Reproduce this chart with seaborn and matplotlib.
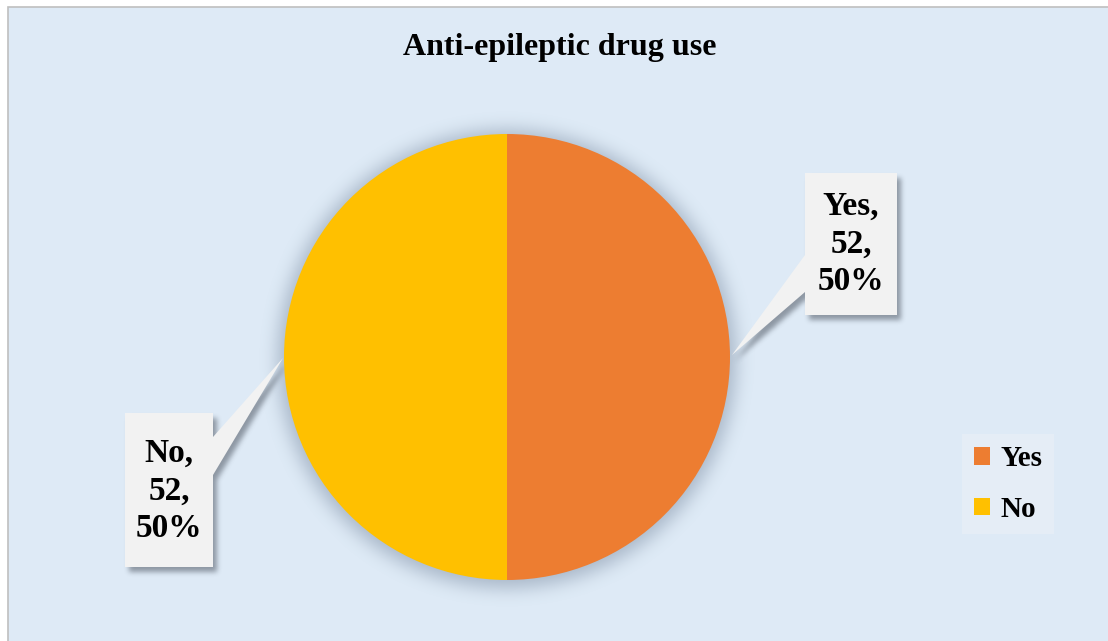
import numpy as np
import matplotlib
matplotlib.use("Agg")
import matplotlib.pyplot as plt
from matplotlib.patches import Polygon, Rectangle
from matplotlib.path import Path
import seaborn as sns

# Data
categories = ["Yes", "No"]
counts = [52, 52]
colors = ["#ED7D31", "#FFC000"]
title = "Anti-epileptic drug use"

sns.set_theme(style="white")
plt.rcParams["font.family"] = ["Liberation Serif", "DejaVu Serif"]
plt.rcParams["font.weight"] = "bold"
plt.rcParams["text.color"] = "black"

W, H = 1108, 641
BG = "#DEEAF6"

fig = plt.figure(figsize=(W / 100, H / 100), dpi=100)
fig.patch.set_facecolor("white")
ax = fig.add_axes([0, 0, 1, 1])
ax.set_xlim(0, W)
ax.set_ylim(H, 0)
ax.axis("off")

# chart area
ax.add_patch(Rectangle((7.5, 6.5), W + 10, H + 10, facecolor=BG,
                       edgecolor="#BFBFBF", linewidth=1.2, zorder=0))


def box_blur(a, r):
    for axis in (0, 1):
        c = np.cumsum(np.pad(a, [(r + 1, r) if i == axis else (0, 0) for i in range(2)]), axis=axis)
        if axis == 0:
            a = (c[2 * r + 1:, :] - c[:-2 * r - 1, :]) / (2 * r + 1)
        else:
            a = (c[:, 2 * r + 1:] - c[:, :-2 * r - 1]) / (2 * r + 1)
    return a


def soft_shadow(mask_fn, x0, x1, y0, y1, radius, strength, color=(0.35, 0.42, 0.52)):
    xs = np.arange(x0, x1) + 0.5
    ys = np.arange(y0, y1) + 0.5
    X, Y = np.meshgrid(xs, ys)
    m = mask_fn(X, Y).astype(float)
    for _ in range(3):
        m = box_blur(m, radius)
    img = np.zeros(m.shape + (4,))
    img[..., 0], img[..., 1], img[..., 2] = color
    img[..., 3] = np.clip(m * strength, 0, 1)
    ax.imshow(img, extent=(x0, x1, y1, y0), interpolation="bilinear", zorder=1)


# pie (y axis runs downward, so clockwise in data terms is counterclock=False)
cx, cy, R = 507, 357, 223
soft_shadow(lambda X, Y: (X - cx) ** 2 + (Y - cy - 2) ** 2 <= (R + 6) ** 2,
            cx - R - 60, cx + R + 60, cy - R - 60, cy + R + 60, 8, 0.4)
wedges, _ = ax.pie(counts, colors=colors, startangle=90, counterclock=False,
                   center=(cx, cy), radius=R, frame=True,
                   wedgeprops=dict(linewidth=0))
for w in wedges:
    w.set_zorder(2)
ax.set_xlim(0, W)
ax.set_ylim(H, 0)
ax.axis("off")

total = sum(counts)
callouts = [
    dict(poly=[(805, 173), (897, 173), (897, 315), (805, 315), (805, 292), (732, 355), (805, 255)],
         text=(851, 244)),
    dict(poly=[(125, 413), (213, 413), (213, 437), (283, 358), (213, 475), (213, 567), (125, 567)],
         text=(169, 491)),
]
for cat, val, c in zip(categories, counts, callouts):
    pts = np.array(c["poly"], dtype=float)
    shifted = Path(pts + np.array([4, 5]))
    xmin, ymin = pts.min(axis=0) - 30
    xmax, ymax = pts.max(axis=0) + 30
    soft_shadow(lambda X, Y, p=shifted: p.contains_points(
        np.column_stack([X.ravel(), Y.ravel()])).reshape(X.shape),
        int(xmin), int(xmax), int(ymin), int(ymax), 2, 0.55, color=(0.3, 0.33, 0.38))
    ax.add_patch(Polygon(pts, closed=True, facecolor="#F2F2F2", edgecolor="none", zorder=4))
    pct = round(100 * val / total)
    ax.text(c["text"][0], c["text"][1], f"{cat},\n{val},\n{pct}%", ha="center", va="center",
            fontsize=24, fontweight="bold", color="black", linespacing=1.28, zorder=5)

ax.text(560, 48, title, ha="center", va="center", fontsize=23, fontweight="bold",
        color="black", zorder=5)

leg = ax.legend(wedges, categories, loc="center",
                bbox_to_anchor=(1008 / W, 1 - 484 / H), bbox_transform=fig.transFigure,
                prop=dict(family="Liberation Serif", weight="bold", size=21),
                frameon=True, fancybox=False, handlelength=0.55, handleheight=0.55,
                handletextpad=0.35, labelspacing=0.8, borderpad=0.4, borderaxespad=0)
for t in leg.get_texts():
    t.set_color("black")
leg.get_frame().set_facecolor("#E5EDF6")
leg.get_frame().set_edgecolor("none")
leg.get_frame().set_alpha(1)
leg.set_zorder(6)

fig.savefig("out.png", dpi=100, facecolor=fig.get_facecolor())
